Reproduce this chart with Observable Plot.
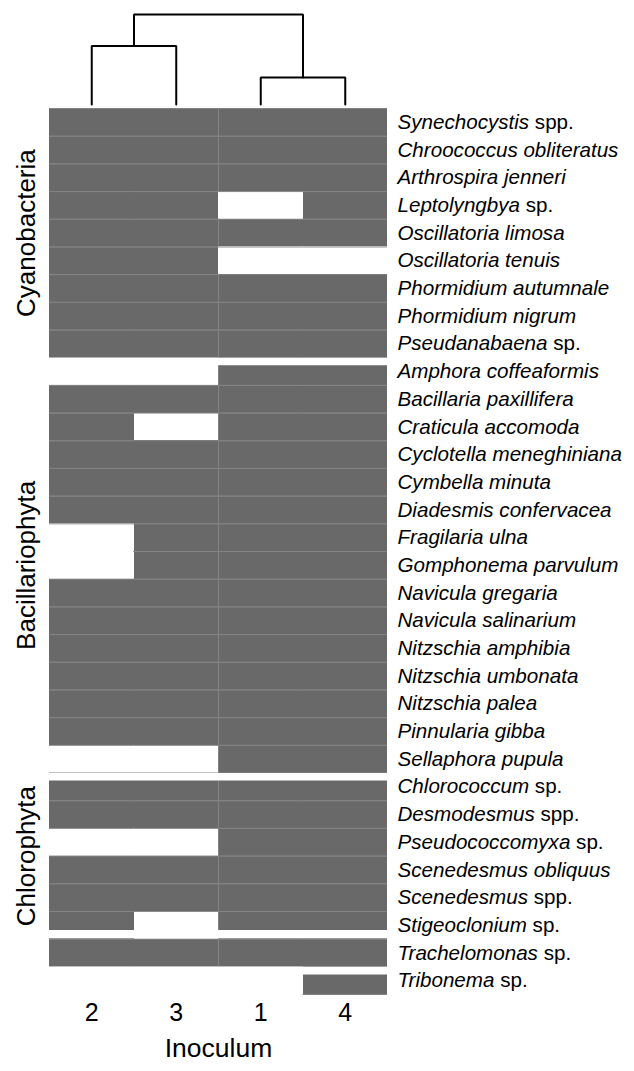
<!DOCTYPE html>
<html>
<head>
<meta charset="utf-8">
<script src="https://cdn.jsdelivr.net/npm/d3@7"></script>
<script src="https://cdn.jsdelivr.net/npm/@observablehq/plot@0.6"></script>
<style>
  body { margin: 0; background: #fff; }
  #chart { width: 634px; font-family: "Liberation Sans", Arial, Helvetica, sans-serif; }
  #chart svg { display: block; }
</style>
</head>
<body>
<div id="chart"></div>
<script>
// ---- Data ----
const columns = ["2", "3", "1", "4"]; // inoculum order (dendrogram leaf order)

const cyanobacteria = [
  "Synechocystis spp.", "Chroococcus obliteratus", "Arthrospira jenneri",
  "Leptolyngbya sp.", "Oscillatoria limosa", "Oscillatoria tenuis",
  "Phormidium autumnale", "Phormidium nigrum", "Pseudanabaena sp."
];
const cyanoPresence = [
  [1,1,1,1],[1,1,1,1],[1,1,1,1],[1,1,0,1],[1,1,1,1],[1,1,0,0],[1,1,1,1],[1,1,1,1],[1,1,1,1]
];

const bacillariophyta = [
  "Amphora coffeaformis", "Bacillaria paxillifera", "Craticula accomoda",
  "Cyclotella meneghiniana", "Cymbella minuta", "Diadesmis confervacea",
  "Fragilaria ulna", "Gomphonema parvulum", "Navicula gregaria",
  "Navicula salinarium", "Nitzschia amphibia", "Nitzschia umbonata",
  "Nitzschia palea", "Pinnularia gibba", "Sellaphora pupula"
];
const bacPresence = [
  [0,0,1,1],[1,1,1,1],[1,0,1,1],[1,1,1,1],[1,1,1,1],[1,1,1,1],[0,1,1,1],[0,1,1,1],
  [1,1,1,1],[1,1,1,1],[1,1,1,1],[1,1,1,1],[1,1,1,1],[1,1,1,1],[0,0,1,1]
];

const chlorophyta = [
  "Chlorococcum sp.", "Desmodesmus spp.", "Pseudococcomyxa sp.",
  "Scenedesmus obliquus", "Scenedesmus spp.", "Stigeoclonium sp."
];
const chloroPresence = [
  [1,1,1,1],[1,1,1,1],[0,0,1,1],[1,1,1,1],[1,1,1,1],[1,0,1,1]
];

const euglenophyta = ["Trachelomonas sp."];
const euglenoPresence = [[1,1,1,1]];

const ochrophyta = ["Tribonema sp."];
const ochroPresence = [[0,0,0,1]];

const groupLabels = ["Cyanobacteria", "Bacillariophyta", "Chlorophyta", "", ""];
const groupGapSide = ["below", "below", "above", "below"]; // white gap after each group

// dendrogram merges (height = cluster distance)
const merges = [
  {left: ["2"], right: ["3"], height: 0.65},
  {left: ["1"], right: ["4"], height: 0.30},
  {left: ["2", "3"], right: ["1", "4"], height: 1.0}
];

// ---- Build tables ----
const groupSpecies = [cyanobacteria, bacillariophyta, chlorophyta, euglenophyta, ochrophyta];
const groupPresence = [cyanoPresence, bacPresence, chloroPresence, euglenoPresence, ochroPresence];

const rows = [];
const groups = [];
groupSpecies.forEach((list, g) => {
  const start = rows.length;
  list.forEach((name, k) => rows.push({name, group: g, index: rows.length, presence: groupPresence[g][k]}));
  groups.push({label: groupLabels[g], start, end: rows.length});
});
const nRows = rows.length;

const cells = [];
rows.forEach(r => r.presence.forEach((v, j) => { if (v) cells.push({i: r.index, j, col: columns[j], name: r.name}); }));

const gapBelow = [], gapAbove = [];
groups.slice(0, -1).forEach((g, k) => (groupGapSide[k] === "below" ? gapBelow : gapAbove).push(g.end));

const fill = "#696969";
const seam = "#838383";
const W = 634, mL = 49, mR = W - 387;

// ---- Dendrogram ----
const leafX = name => columns.indexOf(name) + 0.5;
const clusterX = members => d3.mean(members, leafX);
const clusterH = members => {
  if (members.length === 1) return 0;
  const key = members.slice().sort().join(",");
  const m = merges.find(m => m.left.concat(m.right).slice().sort().join(",") === key);
  return m ? m.height : 0;
};
const dendroPts = [];
merges.forEach((m, k) => {
  const xl = clusterX(m.left), xr = clusterX(m.right);
  dendroPts.push({k, x: xl, h: clusterH(m.left)});
  dendroPts.push({k, x: xl, h: m.height});
  dendroPts.push({k, x: xr, h: m.height});
  dendroPts.push({k, x: xr, h: clusterH(m.right)});
});

const dendro = Plot.plot({
  width: W, height: 108,
  marginLeft: mL, marginRight: mR, marginTop: 14, marginBottom: 4,
  x: {domain: [0, columns.length], axis: null},
  y: {domain: [0, 1], axis: null},
  marks: [
    Plot.line(dendroPts, {x: "x", y: "h", z: "k", stroke: "black", strokeWidth: 2, strokeLinejoin: "miter", curve: "linear"})
  ]
});

// ---- Heatmap ----
const heat = Plot.plot({
  width: W, height: 963,
  marginLeft: mL, marginRight: mR, marginTop: 0, marginBottom: 77,
  style: {fontFamily: '"Liberation Sans", Arial, Helvetica, sans-serif', color: "black", background: "white"},
  x: {domain: [0, columns.length], axis: null},
  y: {domain: [0, nRows], range: [0, 886], axis: null},
  marks: [
    Plot.rect(cells, {x1: d => d.j, x2: d => d.j + 1, y1: d => d.i, y2: d => d.i + 1, fill, shapeRendering: "crispEdges"}),
    Plot.ruleY(cells, {y: d => d.i, x1: d => d.j, x2: d => d.j + 1, stroke: seam, strokeWidth: 1}),
    Plot.ruleY(cells, {y: d => d.i + 1, x1: d => d.j, x2: d => d.j + 1, stroke: seam, strokeWidth: 1}),
    Plot.ruleX(cells.filter(d => d.col === "1"), {x: d => d.j, y1: d => d.i, y2: d => d.i + 1, stroke: seam, strokeWidth: 1}),
    Plot.ruleY(gapBelow, {y: d => d, x1: -0.02, x2: columns.length + 0.02, stroke: "white", strokeWidth: 7.6, dy: 3.8}),
    Plot.ruleY(gapAbove, {y: d => d, x1: -0.02, x2: columns.length + 0.02, stroke: "white", strokeWidth: 8.2, dy: -5.1}),
    Plot.text(rows, {x: columns.length, y: d => d.index + 0.5, text: "name", textAnchor: "start", dx: 10, fontSize: 20.6, fill: "black", className: "species"}),
    Plot.text(groups.filter(g => g.label), {x: 0, y: g => (g.start + g.end) / 2, text: "label", rotate: -90, dx: -22.5, fontSize: 26, fill: "black"}),
    Plot.text(columns, {x: (d, i) => i + 0.5, frameAnchor: "bottom", dy: 26, text: d => d, fontSize: 25, fill: "black"}),
    Plot.text(["Inoculum"], {frameAnchor: "bottom", dy: 62, text: d => d, fontSize: 26.5, fill: "black"})
  ]
});

// italicise binomial names, keep "sp."/"spp." upright
d3.select(heat).selectAll("g.species text").each(function () {
  const t = this.textContent;
  const m = t.match(/^(.*?)( spp?\.)$/);
  const sel = d3.select(this);
  sel.text(null);
  if (m) {
    sel.append("tspan").attr("font-style", "italic").text(m[1]);
    sel.append("tspan").attr("font-style", "normal").text(m[2]);
  } else {
    sel.append("tspan").attr("font-style", "italic").text(t);
  }
});

const chart = document.getElementById("chart");
chart.append(dendro, heat);
</script>
</body>
</html>
